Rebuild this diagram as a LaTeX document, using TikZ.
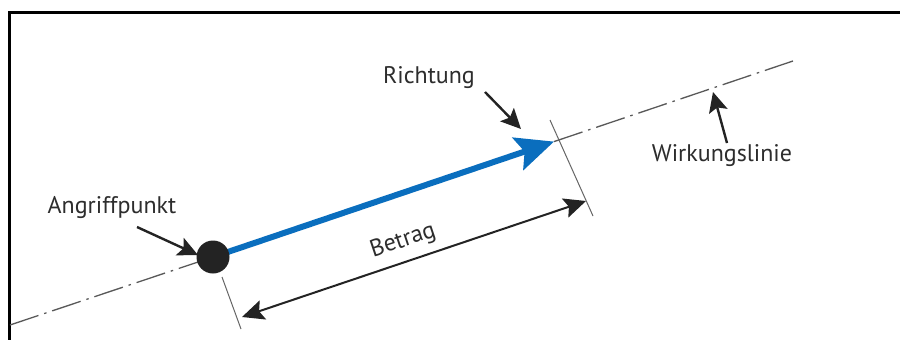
\documentclass[tikz,border=0pt]{standalone}
\usepackage{fontspec}
\setmainfont{PT Sans}
\usetikzlibrary{arrows.meta}
\definecolor{forceblue}{RGB}{10,110,190}
\definecolor{ink}{RGB}{35,35,35}
\definecolor{txt}{RGB}{45,45,45}
\begin{document}
\begin{tikzpicture}[x=1pt,y=-1pt,
  lbl/.style={text=txt,font=\fontsize{24}{28}\selectfont,inner sep=0pt},
  pointer/.style={draw=ink,line width=2.4pt,-{Stealth[length=20pt,width=19pt,inset=4pt]}},
  axisline/.style={draw=black!65,line width=1.3pt,dash pattern=on 30pt off 6pt on 2.5pt off 6pt},
  tick/.style={draw=black!60,line width=1pt},
  dimline/.style={draw=ink,line width=2pt,{Stealth[length=22pt,width=20pt,inset=4pt]}-{Stealth[length=22pt,width=20pt,inset=4pt]}}]
\fill[white] (0,0) rectangle (900,340);
\useasboundingbox (0,0) rectangle (900,340);
% frame
\draw[line width=3pt] (9,340) -- (9,12.5) -- (900,12.5);
% line of action
\coordinate (A) at (10,325);
\coordinate (B) at (793,61);
\coordinate (T) at (554,141.6);
\coordinate (P) at (213,257);
\draw[axisline] (A) -- (P);
\draw[axisline] (T) -- (B);
% force vector
\draw[forceblue,line width=6pt,-{Stealth[length=38pt,width=34pt,inset=7pt]}] (P) -- (T);
\node[circle,fill=ink,minimum size=33pt,inner sep=0pt] (dot) at (P) {};
% ticks
\coordinate (t1a) at (222,277);
\coordinate (t1b) at (241,329);
\coordinate (t2a) at (550,120);
\coordinate (t2b) at (593,216);
\draw[tick] (t1a) -- (t1b);
\draw[tick] (t2a) -- (t2b);
% magnitude
\coordinate (d1) at (242,317);
\coordinate (d2) at (586,201);
\draw[dimline] (d1) -- (d2);
\node[lbl,rotate=18.6] (betrag) at (403,241) {Betrag};
% labels
\node[lbl] (richtung) at (429,78) {Richtung};
\node[lbl] (angriff) at (112,208) {Angriffpunkt};
\node[lbl] (wirkung) at (722,156) {Wirkungslinie};
\coordinate (r1) at (485,92);
\coordinate (r2) at (521,129);
\coordinate (a1) at (137,227);
\coordinate (a2) at (198,255);
\coordinate (w1) at (727,143);
\coordinate (w2) at (713,92);
\draw[pointer] (r1) -- (r2);
\draw[pointer] (a1) -- (a2);
\draw[pointer] (w1) -- (w2);
\end{tikzpicture}
\end{document}
